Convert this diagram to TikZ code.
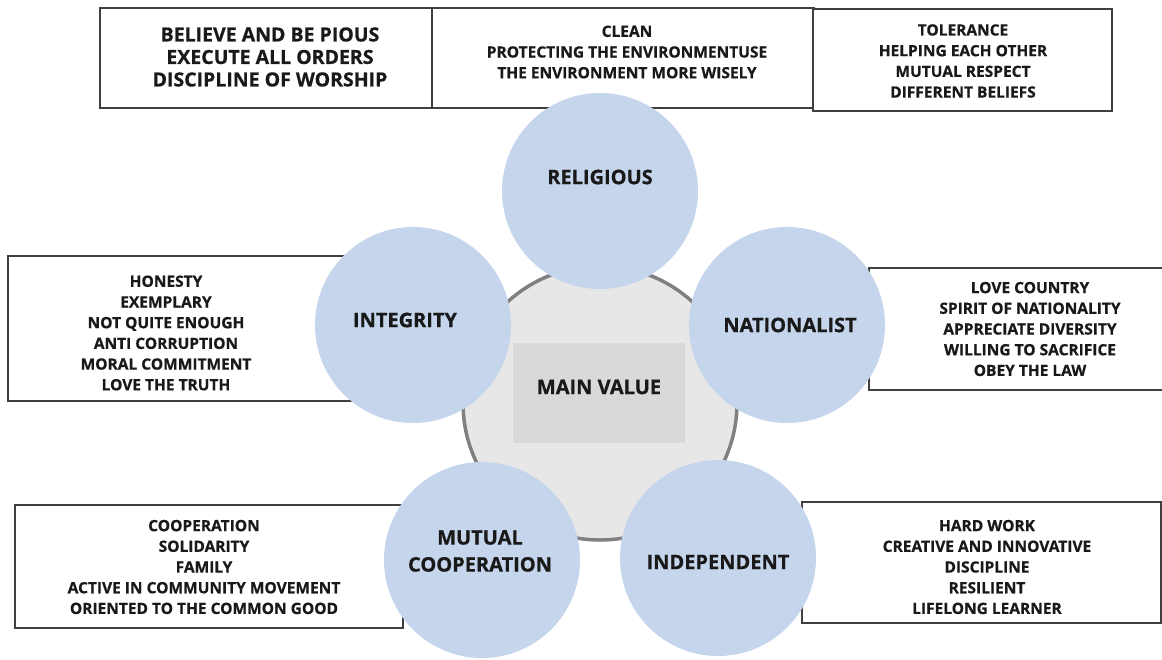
\documentclass[tikz,border=0pt]{standalone}
\usepackage{fontspec}
\setmainfont{Open Sans}[BoldFeatures={FakeBold=0.6}]
\definecolor{valueblue}{RGB}{197,214,236}
\definecolor{coregray}{RGB}{231,231,231}
\definecolor{corebox}{RGB}{217,217,217}
\definecolor{corerim}{RGB}{128,128,128}

\begin{document}
\begin{tikzpicture}[x=1pt, y=-1pt,
    listbox/.style={draw=black!75, line width=1.2pt, fill=white},
    valuedisc/.style={circle, fill=valueblue, minimum size=196pt, inner sep=0pt},
    valuename/.style={font=\bfseries\fontsize{20}{27}\selectfont, align=center, text=black!90},
    valuelist/.style={font=\bfseries\fontsize{15.5}{20.7}\selectfont, align=center, text=black!90}]
			%%%%% START %%%%%
			
			\clip (0,0) rectangle (1162,659);
			
			% boxes with the lists, they sit behind the discs
			\draw[listbox] (100,8) rectangle (432,108);
			\draw[listbox] (432,8) rectangle (814,108);
			\draw[listbox] (813,9) rectangle (1112,111);
			\draw[listbox] (8,256) rectangle (352,401);
			\draw[listbox] (869,268) rectangle (1175,390);
			\draw[listbox] (15,505) rectangle (403,628);
			\draw[listbox] (802,502) rectangle (1161,623);
			
			% core
			\node[circle, minimum size=274pt, fill=coregray, draw=corerim, line width=3.5pt] (core) at (600,403) {};
			\node[fill=corebox, minimum width=172pt, minimum height=100pt] (mainbox) at (599,393) {};
			\node[valuename] (main) at (599,387) {MAIN VALUE};
			
			% the five values
			\node[valuedisc] (religious) at (600,191) {};
			\node[valuedisc] (integrity) at (413,325) {};
			\node[valuedisc] (nationalist) at (787,325) {};
			\node[valuedisc] (mutual) at (482,560) {};
			\node[valuedisc] (independent) at (718,558) {};
			
			\node[valuename] (religious-name) at (600,177) {RELIGIOUS};
			\node[valuename] (integrity-name) at (405,320) {INTEGRITY};
			\node[valuename] (nationalist-name) at (790,325) {NATIONALIST};
			\node[valuename] (mutual-name) at (480,551) {MUTUAL\\COOPERATION};
			\node[valuename] (independent-name) at (718,562) {INDEPENDENT};
			
			% lists
			\node[valuelist, font=\bfseries\fontsize{19.5}{22.5}\selectfont] (religious-list) at (270,57)
				{BELIEVE AND BE PIOUS\\EXECUTE ALL ORDERS\\DISCIPLINE OF WORSHIP};
			\node[valuelist] (environment-list) at (627,52)
				{CLEAN\\PROTECTING THE ENVIRONMENTUSE\\THE ENVIRONMENT MORE WISELY};
			\node[valuelist] (tolerance-list) at (963,61)
				{TOLERANCE\\HELPING EACH OTHER\\MUTUAL RESPECT\\DIFFERENT BELIEFS};
			\node[valuelist] (integrity-list) at (166,333)
				{HONESTY\\EXEMPLARY\\NOT QUITE ENOUGH\\ANTI CORRUPTION\\MORAL COMMITMENT\\LOVE THE TRUTH};
			\node[valuelist] (nationalist-list) at (1030,329)
				{LOVE COUNTRY\\SPIRIT OF NATIONALITY\\APPRECIATE DIVERSITY\\WILLING TO SACRIFICE\\OBEY THE LAW};
			\node[valuelist] (mutual-list) at (204,567)
				{COOPERATION\\SOLIDARITY\\FAMILY\\ACTIVE IN COMMUNITY MOVEMENT\\ORIENTED TO THE COMMON GOOD};
			\node[valuelist] (independent-list) at (987,567)
				{HARD WORK\\CREATIVE AND INNOVATIVE\\DISCIPLINE\\RESILIENT\\LIFELONG LEARNER};
			
			%%%%% END %%%%%
\end{tikzpicture}
\end{document}
